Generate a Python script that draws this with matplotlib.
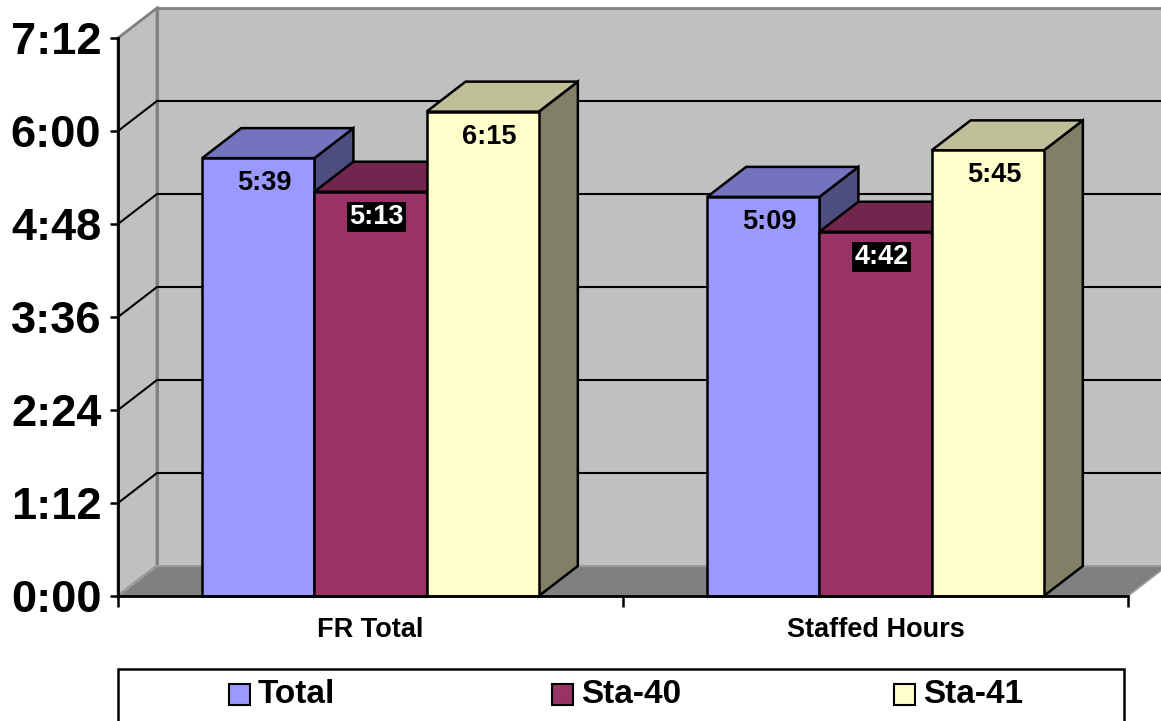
import matplotlib
matplotlib.use("Agg")
import matplotlib.pyplot as plt
from matplotlib.patches import Polygon, Rectangle

plt.rcParams['font.family'] = ['Liberation Sans', 'DejaVu Sans']
plt.rcParams['font.weight'] = 'bold'

# ---- data -------------------------------------------------------------
categories = ["FR Total", "Staffed Hours"]
series_names = ["Total", "Sta-40", "Sta-41"]
total_times = ["5:39", "5:09"]
sta40_times = ["5:13", "4:42"]
sta41_times = ["6:15", "5:45"]
y_ticks_min = [0, 72, 144, 216, 288, 360, 432]


def to_minutes(s):
    h, m = s.split(":")
    return int(h) * 60 + int(m)


def fmt(mins):
    return f"{int(mins) // 60}:{int(mins) % 60:02d}"


series_values = [[to_minutes(t) for t in total_times],
                 [to_minutes(t) for t in sta40_times],
                 [to_minutes(t) for t in sta41_times]]

front = ["#9999FF", "#993366", "#FFFFCC"]
top = ["#7373BF", "#73264D", "#BFBF99"]
side = ["#4D4D80", "#4D1A33", "#808066"]

# ---- figure -----------------------------------------------------------
W, H = 1161, 721
fig = plt.figure(figsize=(W / 100, H / 100), dpi=100)
fig.patch.set_facecolor("white")
ax = fig.add_axes([118 / W, 125 / H, 1010 / W, 558 / H])
ymax = y_ticks_min[-1]
ax.set_xlim(0, len(categories))
ax.set_ylim(0, ymax)
ax.set_facecolor("none")

# depth of the 3-D box in data units
dx = 39 / 505.0
dy = 30 / (558 / ymax)

wall_c = "#C0C0C0"
edge_c = "#808080"
# back wall, side wall, floor
ax.add_patch(Rectangle((dx, dy), len(categories), ymax, facecolor=wall_c,
                       edgecolor=edge_c, lw=2, clip_on=False, zorder=1))
ax.add_patch(Polygon([(0, 0), (dx, dy), (dx, ymax + dy), (0, ymax)],
                     facecolor=wall_c, edgecolor=edge_c, lw=2, clip_on=False, zorder=1))
ax.add_patch(Polygon([(0, 0), (dx, dy), (len(categories) + dx, dy), (len(categories), 0)],
                     facecolor="#808080", edgecolor="#A0A0A0", lw=1.2, clip_on=False, zorder=1.5))
# gridlines on walls
for t in y_ticks_min[1:-1]:
    ax.plot([0, dx, len(categories) + dx], [t, t + dy, t + dy], color="black",
            lw=1.5, clip_on=False, zorder=2, solid_capstyle="butt")

# ---- bars -------------------------------------------------------------
bw = 2 / 9.0
for ci in range(len(categories)):
    start = ci + 1 / 6.0
    for si, vals in enumerate(series_values):
        h = vals[ci]
        x0 = start + si * bw
        x1 = x0 + bw
        z = 3 + ci * 3 + si
        kw = dict(edgecolor="black", lw=1.8, clip_on=False, zorder=z, joinstyle="miter")
        ax.add_patch(Polygon([(x1, 0), (x1 + dx, dy), (x1 + dx, h + dy), (x1, h)],
                             facecolor=side[si], **kw))
        ax.add_patch(Polygon([(x0, h), (x1, h), (x1 + dx, h + dy), (x0 + dx, h + dy)],
                             facecolor=top[si], **kw))
        ax.add_patch(Rectangle((x0, 0), bw, h, facecolor=front[si], **kw))
        if si == 1:
            tkw = dict(color="white",
                       bbox=dict(boxstyle="square,pad=0.08", facecolor="black", edgecolor="none"))
        else:
            tkw = dict(color="black")
        ax.annotate(fmt(h), xy=((x0 + x1) / 2, h), xytext=(4.5, -18),
                    textcoords="offset points", ha="center", va="center",
                    fontsize=19.5, fontweight="bold", zorder=20, **tkw)

# ---- axes -------------------------------------------------------------
for s in ["top", "right"]:
    ax.spines[s].set_visible(False)
for s in ["left", "bottom"]:
    ax.spines[s].set_linewidth(2)
    ax.spines[s].set_zorder(30)
ax.set_yticks(y_ticks_min)
ax.set_yticklabels([fmt(t) for t in y_ticks_min], fontsize=32.5, fontweight="bold")
ax.tick_params(axis="y", length=6, width=1.8, pad=6)
ax.set_xticks(range(len(categories) + 1))
ax.set_xticklabels([])
ax.tick_params(axis="x", which="major", length=8, width=1.8, direction="out")
ax.set_xticks([i + 0.5 for i in range(len(categories))], minor=True)
ax.set_xticklabels(categories, minor=True, fontsize=19.5, fontweight="bold")
ax.tick_params(axis="x", which="minor", length=0, pad=15)

# ---- legend -----------------------------------------------------------
fig.patches.append(Rectangle((118 / W, -0.05), (1124 - 118) / W, 0.05 + 52 / H,
                             transform=fig.transFigure, facecolor="white",
                             edgecolor="black", lw=1.8))
marker_x = [229, 552, 894]
yc = (H - 694.5) / H
for name, c, mx in zip(series_names, front, marker_x):
    fig.patches.append(Rectangle((mx / W, yc - 10.5 / H), 21 / W, 21 / H,
                                 transform=fig.transFigure, facecolor=c,
                                 edgecolor="black", lw=1.5))
    fig.text((mx + 29) / W, yc, name, fontsize=24, fontweight="bold",
             ha="left", va="center")

fig.savefig("out.png", dpi=100)
